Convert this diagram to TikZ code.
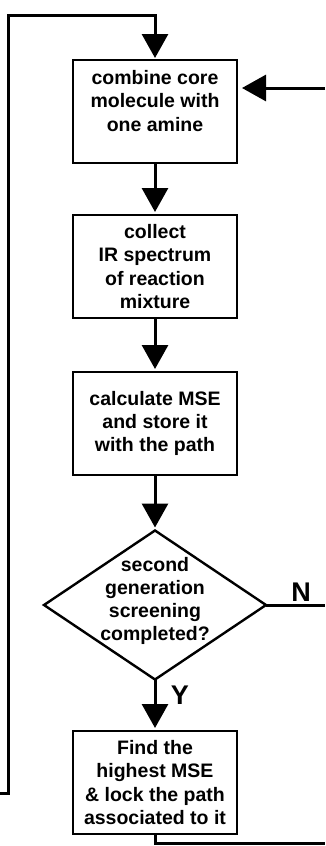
\documentclass[tikz,border=0pt]{standalone}
\usepackage{fontspec}
\setmainfont{Liberation Sans}
\usetikzlibrary{arrows.meta,shapes.geometric}
\newcommand\flowfont{\fontsize{19.5}{23.2}\selectfont\bfseries}
\newcommand\answerfont{\fontsize{27}{30}\selectfont\bfseries}
\begin{document}
\begin{tikzpicture}[x=1pt,y=-1pt,
  flow/.style={line width=3pt},
  arr/.style={flow,-{Triangle[length=24pt,width=26pt]},shorten >=3pt},
  stepbox/.style={draw,line width=1.4pt,minimum width=164pt,minimum height=103pt,
    inner sep=0pt,outer sep=0pt,align=center,font=\flowfont},
  steptext/.style={align=center,font=\flowfont,inner sep=0pt},
  decision/.style={draw,diamond,line width=2.4pt,minimum width=222pt,minimum height=149pt,
    inner sep=0pt,outer sep=0pt},
  answer/.style={font=\answerfont,inner sep=0pt}]
  \useasboundingbox (0,0) rectangle (325,846);

  % process steps
  \node[stepbox] (b1) at (155,111.5) {};
  \node[steptext] (t1) at (155,101) {combine core\\molecule with\\one amine};
  \node[stepbox] (b2) at (155,266.5) {collect\\IR spectrum\\of reaction\\mixture};
  \node[stepbox] (b3) at (155,423.5) {calculate MSE\\and store it\\with the path};
  \node[decision] (d) at (155,605) {};
  \node[steptext] (dt) at (155,601) {second\\generation\\screening\\completed?};
  \node[stepbox] (b5) at (155,782.5) {Find the\\highest MSE\\\& lock the path\\associated to it};

  % branch labels
  \node[answer] (n) at (301,592) {N};
  \node[answer] (y) at (180,695) {Y};

  % free ends of the loop lines
  \coordinate (lb) at (0,793);
  \coordinate (lt) at (8,15);
  \coordinate (re) at (325,88);
  \coordinate (ne) at (325,605);
  \coordinate (be) at (325,843);

  % main flow
  \draw[arr] (b1) -- (b2);
  \draw[arr] (b2) -- (b3);
  \draw[arr] (b3) -- (d);
  \draw[arr] (d) -- (b5);

  % loops
  \draw[arr,shorten >=2pt] (lb) -| (lt) -| (b1.north);
  \draw[arr,shorten >=5pt] (re) -- (re -| b1.east);
  \draw[flow] (d.east) -- (ne);
  \draw[flow] (b5.south) |- (be);
\end{tikzpicture}
\end{document}
